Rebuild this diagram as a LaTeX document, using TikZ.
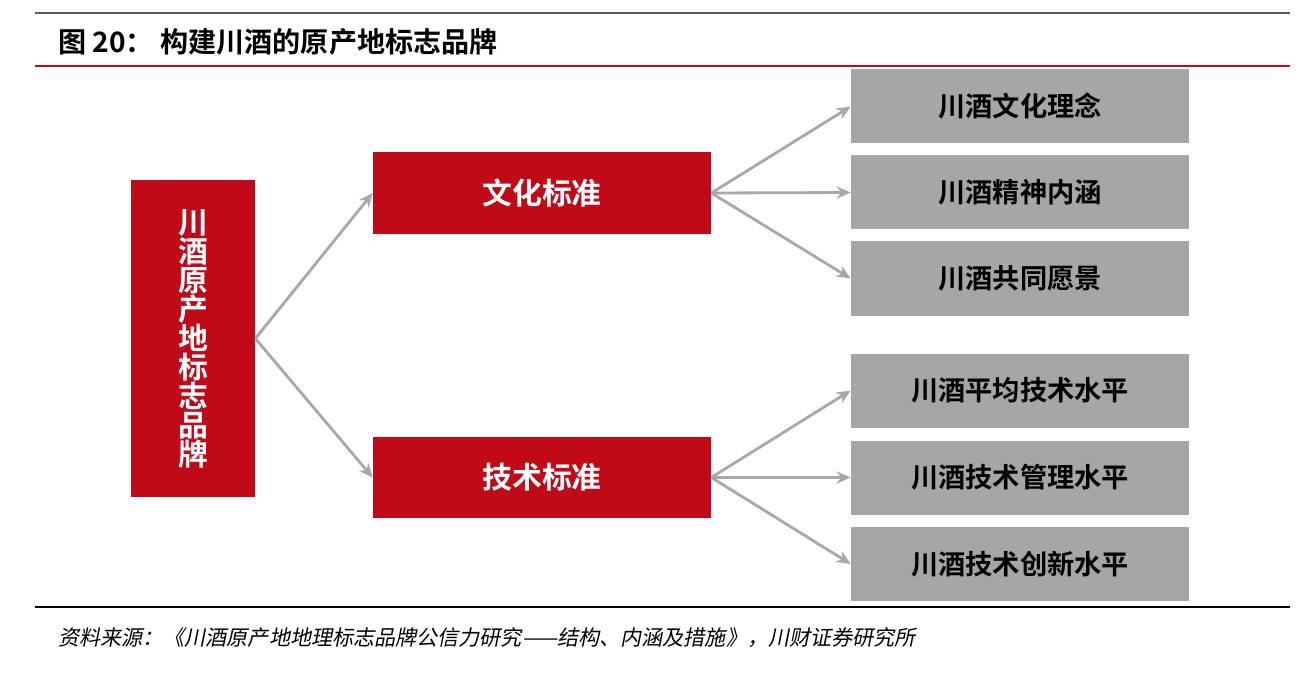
\documentclass[tikz,border=0pt]{standalone}
\usepackage{fontspec}
\setmainfont{Noto Sans CJK SC}
\newfontfamily\cjkb{Noto Sans CJK SC Bold}
\newfontfamily\cjkit[FakeSlant=0.2]{Noto Sans CJK SC}
\usetikzlibrary{arrows.meta}
\definecolor{cred}{HTML}{C00A17}
\definecolor{cgray}{HTML}{A6A6A6}
\definecolor{agray}{HTML}{A8A8A8}
\tikzset{
 redbox/.style={fill=cred,draw=none,text=white,font=\cjkb\fontsize{17}{20}\selectfont,inner sep=0pt},
 graybox/.style={fill=cgray,draw=none,text=black,minimum width=338*0.02cm,minimum height=74*0.02cm,font=\cjkb\fontsize{15.5}{18}\selectfont,inner sep=0pt},
 conn/.style={draw=agray,line width=1.6pt,-{Stealth[length=8pt,width=7pt]}}
}
\begin{document}
\begin{tikzpicture}[x=0.02cm,y=-0.02cm]
\useasboundingbox (0,0) rectangle (1308,682);
\draw[line width=0.6pt,gray!70!black] (35,13) -- (1290,13);
\draw[line width=0.8pt,cred] (35,66) -- (1290,66);
\draw[line width=0.8pt,black] (35,607) -- (1290,607);
\node[anchor=west,font=\cjkb\fontsize{16}{19}\selectfont] (title) at (52,42) {图 20：\ 构建川酒的原产地标志品牌};
\node[anchor=west,font=\cjkit\fontsize{12}{14}\selectfont] (src) at (52,638) {资料来源：《川酒原产地地理标志品牌公信力研究——结构、内涵及措施》，川财证券研究所};
\node[redbox,minimum width=124*0.02cm,minimum height=317*0.02cm,align=center,font=\cjkb\fontsize{17}{16.5}\selectfont] (root) at (193,338.5) {川\\酒\\原\\产\\地\\标\\志\\品\\牌};
\node[redbox,minimum width=338*0.02cm,minimum height=82*0.02cm] (wh) at (542,193) {文化标准};
\node[redbox,minimum width=338*0.02cm,minimum height=81*0.02cm] (js) at (542,477.5) {技术标准};
\node[graybox] (g1) at (1020,106.5) {川酒文化理念};
\node[graybox] (g2) at (1020,192.5) {川酒精神内涵};
\node[graybox] (g3) at (1020,278.5) {川酒共同愿景};
\node[graybox] (g4) at (1020,390.5) {川酒平均技术水平};
\node[graybox] (g5) at (1020,477.5) {川酒技术管理水平};
\node[graybox] (g6) at (1020,564) {川酒技术创新水平};
\draw[conn] (root.east) -- (wh.west);
\draw[conn] (root.east) -- (js.west);
\foreach \g in {g1,g2,g3} \draw[conn] (wh.east) -- (\g.west);
\foreach \g in {g4,g5,g6} \draw[conn] (js.east) -- (\g.west);
\end{tikzpicture}
\end{document}
